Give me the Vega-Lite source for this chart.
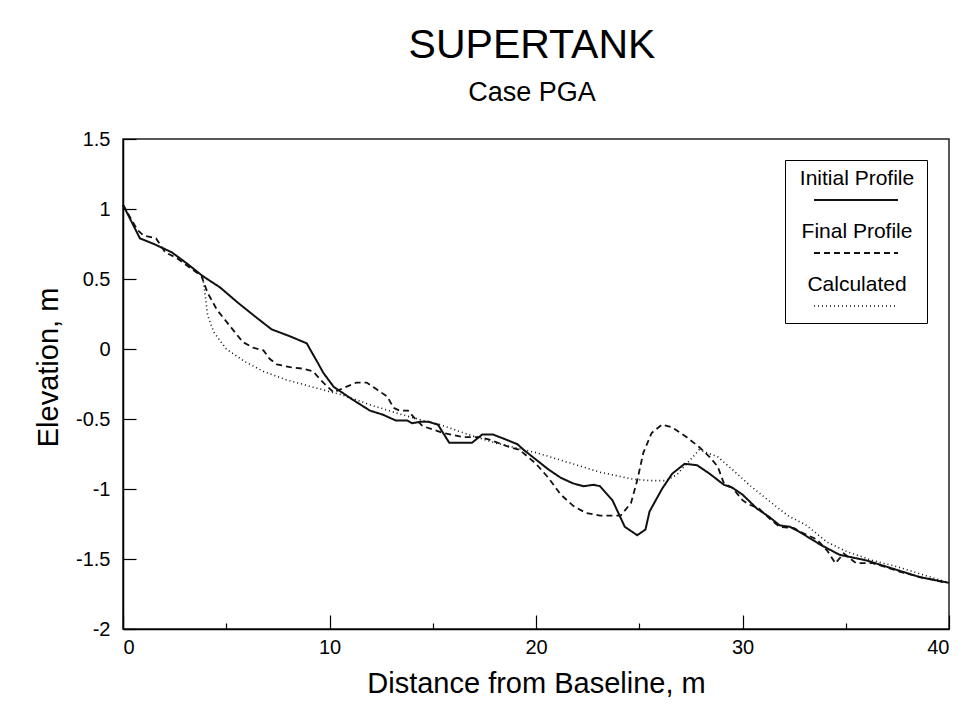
{
  "$schema": "https://vega.github.io/schema/vega-lite/v6.json",
  "autosize": {"type": "none"},
  "padding": {"left": 123, "top": 139, "right": 18, "bottom": 96},
  "width": 826,
  "height": 490,
  "background": "white",
  "title": {
    "text": "SUPERTANK",
    "subtitle": "Case PGA",
    "font": "Liberation Sans",
    "fontSize": 41,
    "fontWeight": "normal",
    "color": "black",
    "subtitleFont": "Liberation Sans",
    "subtitleFontSize": 27,
    "subtitleColor": "black",
    "subtitlePadding": 13,
    "anchor": "middle",
    "dx": -4,
    "offset": 22
  },
  "config": {
    "view": {"stroke": "#222", "strokeWidth": 1.5},
    "axis": {
      "labelFont": "Liberation Sans",
      "labelFontSize": 20,
      "labelColor": "black",
      "titleFont": "Liberation Sans",
      "titleFontSize": 29,
      "titleFontWeight": "normal",
      "titleColor": "black",
      "domainColor": "black",
      "domainWidth": 1.5,
      "tickColor": "black",
      "tickWidth": 1.2,
      "grid": false
    }
  },
  "datasets": {
    "profiles": [
      {"series": "Initial Profile", "x": 0, "y": 1.03},
      {"series": "Initial Profile", "x": 0.82, "y": 0.79},
      {"series": "Initial Profile", "x": 1.5, "y": 0.75},
      {"series": "Initial Profile", "x": 2.37, "y": 0.69},
      {"series": "Initial Profile", "x": 3.1, "y": 0.61},
      {"series": "Initial Profile", "x": 3.87, "y": 0.52},
      {"series": "Initial Profile", "x": 4.7, "y": 0.44},
      {"series": "Initial Profile", "x": 5.57, "y": 0.33},
      {"series": "Initial Profile", "x": 6.5, "y": 0.22},
      {"series": "Initial Profile", "x": 7.2, "y": 0.14},
      {"series": "Initial Profile", "x": 8.1, "y": 0.09},
      {"series": "Initial Profile", "x": 8.9, "y": 0.04},
      {"series": "Initial Profile", "x": 9.05, "y": 0.0},
      {"series": "Initial Profile", "x": 9.4, "y": -0.09},
      {"series": "Initial Profile", "x": 9.7, "y": -0.17},
      {"series": "Initial Profile", "x": 10.2, "y": -0.27},
      {"series": "Initial Profile", "x": 10.5, "y": -0.3},
      {"series": "Initial Profile", "x": 11.1, "y": -0.36},
      {"series": "Initial Profile", "x": 11.96, "y": -0.44},
      {"series": "Initial Profile", "x": 12.6, "y": -0.47},
      {"series": "Initial Profile", "x": 13.2, "y": -0.51},
      {"series": "Initial Profile", "x": 13.75, "y": -0.51},
      {"series": "Initial Profile", "x": 14.0, "y": -0.53},
      {"series": "Initial Profile", "x": 14.4, "y": -0.52},
      {"series": "Initial Profile", "x": 14.8, "y": -0.52},
      {"series": "Initial Profile", "x": 15.25, "y": -0.54},
      {"series": "Initial Profile", "x": 15.8, "y": -0.67},
      {"series": "Initial Profile", "x": 16.9, "y": -0.67},
      {"series": "Initial Profile", "x": 17.4, "y": -0.61},
      {"series": "Initial Profile", "x": 17.9, "y": -0.61},
      {"series": "Initial Profile", "x": 18.6, "y": -0.65},
      {"series": "Initial Profile", "x": 19.1, "y": -0.68},
      {"series": "Initial Profile", "x": 19.4, "y": -0.72},
      {"series": "Initial Profile", "x": 20.0, "y": -0.79},
      {"series": "Initial Profile", "x": 20.6, "y": -0.86},
      {"series": "Initial Profile", "x": 21.2, "y": -0.92},
      {"series": "Initial Profile", "x": 21.8, "y": -0.96},
      {"series": "Initial Profile", "x": 22.3, "y": -0.98},
      {"series": "Initial Profile", "x": 22.8, "y": -0.97},
      {"series": "Initial Profile", "x": 23.1, "y": -0.98},
      {"series": "Initial Profile", "x": 23.7, "y": -1.08},
      {"series": "Initial Profile", "x": 24.3, "y": -1.27},
      {"series": "Initial Profile", "x": 24.9, "y": -1.33},
      {"series": "Initial Profile", "x": 25.3, "y": -1.29},
      {"series": "Initial Profile", "x": 25.5, "y": -1.16},
      {"series": "Initial Profile", "x": 26.1, "y": -1.0},
      {"series": "Initial Profile", "x": 26.6, "y": -0.89},
      {"series": "Initial Profile", "x": 27.2, "y": -0.82},
      {"series": "Initial Profile", "x": 27.8, "y": -0.83},
      {"series": "Initial Profile", "x": 28.4, "y": -0.89},
      {"series": "Initial Profile", "x": 29.1, "y": -0.97},
      {"series": "Initial Profile", "x": 29.5, "y": -0.99},
      {"series": "Initial Profile", "x": 30.0, "y": -1.04},
      {"series": "Initial Profile", "x": 30.7, "y": -1.14},
      {"series": "Initial Profile", "x": 31.3, "y": -1.2},
      {"series": "Initial Profile", "x": 31.8, "y": -1.26},
      {"series": "Initial Profile", "x": 32.3, "y": -1.27},
      {"series": "Initial Profile", "x": 32.8, "y": -1.31},
      {"series": "Initial Profile", "x": 33.8, "y": -1.4},
      {"series": "Initial Profile", "x": 34.7, "y": -1.47},
      {"series": "Initial Profile", "x": 36.0, "y": -1.51},
      {"series": "Initial Profile", "x": 37.3, "y": -1.57},
      {"series": "Initial Profile", "x": 38.6, "y": -1.63},
      {"series": "Initial Profile", "x": 40, "y": -1.67},

      {"series": "Final Profile", "x": 0, "y": 1.03},
      {"series": "Final Profile", "x": 0.7, "y": 0.85},
      {"series": "Final Profile", "x": 1.0, "y": 0.81},
      {"series": "Final Profile", "x": 1.6, "y": 0.79},
      {"series": "Final Profile", "x": 2.05, "y": 0.69},
      {"series": "Final Profile", "x": 2.6, "y": 0.65},
      {"series": "Final Profile", "x": 3.25, "y": 0.58},
      {"series": "Final Profile", "x": 3.8, "y": 0.52},
      {"series": "Final Profile", "x": 4.1, "y": 0.4},
      {"series": "Final Profile", "x": 4.55, "y": 0.28},
      {"series": "Final Profile", "x": 5.2, "y": 0.16},
      {"series": "Final Profile", "x": 5.8, "y": 0.05},
      {"series": "Final Profile", "x": 6.3, "y": 0.01},
      {"series": "Final Profile", "x": 6.8, "y": -0.01},
      {"series": "Final Profile", "x": 7.1, "y": -0.07},
      {"series": "Final Profile", "x": 7.45, "y": -0.11},
      {"series": "Final Profile", "x": 8.1, "y": -0.13},
      {"series": "Final Profile", "x": 8.7, "y": -0.14},
      {"series": "Final Profile", "x": 9.2, "y": -0.16},
      {"series": "Final Profile", "x": 9.7, "y": -0.24},
      {"series": "Final Profile", "x": 10.2, "y": -0.31},
      {"series": "Final Profile", "x": 10.65, "y": -0.28},
      {"series": "Final Profile", "x": 11.3, "y": -0.24},
      {"series": "Final Profile", "x": 11.8, "y": -0.24},
      {"series": "Final Profile", "x": 12.3, "y": -0.29},
      {"series": "Final Profile", "x": 12.8, "y": -0.34},
      {"series": "Final Profile", "x": 13.1, "y": -0.42},
      {"series": "Final Profile", "x": 13.4, "y": -0.44},
      {"series": "Final Profile", "x": 13.8, "y": -0.44},
      {"series": "Final Profile", "x": 14.1, "y": -0.49},
      {"series": "Final Profile", "x": 14.5, "y": -0.55},
      {"series": "Final Profile", "x": 15.5, "y": -0.6},
      {"series": "Final Profile", "x": 16.5, "y": -0.63},
      {"series": "Final Profile", "x": 17.3, "y": -0.63},
      {"series": "Final Profile", "x": 17.8, "y": -0.65},
      {"series": "Final Profile", "x": 18.7, "y": -0.7},
      {"series": "Final Profile", "x": 19.2, "y": -0.72},
      {"series": "Final Profile", "x": 20.0, "y": -0.82},
      {"series": "Final Profile", "x": 20.6, "y": -0.92},
      {"series": "Final Profile", "x": 21.2, "y": -1.04},
      {"series": "Final Profile", "x": 21.8, "y": -1.12},
      {"series": "Final Profile", "x": 22.4, "y": -1.17},
      {"series": "Final Profile", "x": 23.1, "y": -1.19},
      {"series": "Final Profile", "x": 24.1, "y": -1.19},
      {"series": "Final Profile", "x": 24.6, "y": -1.1},
      {"series": "Final Profile", "x": 24.9, "y": -0.94},
      {"series": "Final Profile", "x": 25.2, "y": -0.74},
      {"series": "Final Profile", "x": 25.6, "y": -0.6},
      {"series": "Final Profile", "x": 26.1, "y": -0.54},
      {"series": "Final Profile", "x": 26.6, "y": -0.56},
      {"series": "Final Profile", "x": 27.3, "y": -0.63},
      {"series": "Final Profile", "x": 27.9, "y": -0.7},
      {"series": "Final Profile", "x": 28.4, "y": -0.77},
      {"series": "Final Profile", "x": 28.8, "y": -0.84},
      {"series": "Final Profile", "x": 29.1, "y": -0.96},
      {"series": "Final Profile", "x": 29.5, "y": -0.99},
      {"series": "Final Profile", "x": 30.0, "y": -1.08},
      {"series": "Final Profile", "x": 30.3, "y": -1.11},
      {"series": "Final Profile", "x": 30.8, "y": -1.14},
      {"series": "Final Profile", "x": 31.3, "y": -1.21},
      {"series": "Final Profile", "x": 31.8, "y": -1.27},
      {"series": "Final Profile", "x": 32.5, "y": -1.28},
      {"series": "Final Profile", "x": 33.0, "y": -1.32},
      {"series": "Final Profile", "x": 33.6, "y": -1.36},
      {"series": "Final Profile", "x": 34.1, "y": -1.44},
      {"series": "Final Profile", "x": 34.5, "y": -1.53},
      {"series": "Final Profile", "x": 34.9, "y": -1.46},
      {"series": "Final Profile", "x": 35.5, "y": -1.53},
      {"series": "Final Profile", "x": 36.3, "y": -1.53},
      {"series": "Final Profile", "x": 37.0, "y": -1.56},
      {"series": "Final Profile", "x": 37.6, "y": -1.59},
      {"series": "Final Profile", "x": 38.6, "y": -1.63},
      {"series": "Final Profile", "x": 39.9, "y": -1.67},

      {"series": "Calculated", "x": 3.87, "y": 0.51},
      {"series": "Calculated", "x": 4.0, "y": 0.36},
      {"series": "Calculated", "x": 4.1, "y": 0.24},
      {"series": "Calculated", "x": 4.4, "y": 0.12},
      {"series": "Calculated", "x": 5.0, "y": 0.0},
      {"series": "Calculated", "x": 5.9, "y": -0.09},
      {"series": "Calculated", "x": 6.8, "y": -0.16},
      {"series": "Calculated", "x": 7.9, "y": -0.22},
      {"series": "Calculated", "x": 9.4, "y": -0.28},
      {"series": "Calculated", "x": 10.65, "y": -0.33},
      {"series": "Calculated", "x": 12.0, "y": -0.4},
      {"series": "Calculated", "x": 13.3, "y": -0.46},
      {"series": "Calculated", "x": 14.5, "y": -0.51},
      {"series": "Calculated", "x": 15.35, "y": -0.54},
      {"series": "Calculated", "x": 16.7, "y": -0.61},
      {"series": "Calculated", "x": 18.0, "y": -0.67},
      {"series": "Calculated", "x": 20.0, "y": -0.74},
      {"series": "Calculated", "x": 22.0, "y": -0.83},
      {"series": "Calculated", "x": 23.1, "y": -0.88},
      {"series": "Calculated", "x": 24.7, "y": -0.93},
      {"series": "Calculated", "x": 25.5, "y": -0.94},
      {"series": "Calculated", "x": 26.3, "y": -0.94},
      {"series": "Calculated", "x": 26.8, "y": -0.9},
      {"series": "Calculated", "x": 27.3, "y": -0.82},
      {"series": "Calculated", "x": 27.9, "y": -0.72},
      {"series": "Calculated", "x": 28.8, "y": -0.77},
      {"series": "Calculated", "x": 29.5, "y": -0.86},
      {"series": "Calculated", "x": 30.4, "y": -0.98},
      {"series": "Calculated", "x": 31.5, "y": -1.11},
      {"series": "Calculated", "x": 32.2, "y": -1.19},
      {"series": "Calculated", "x": 33.1, "y": -1.26},
      {"series": "Calculated", "x": 34.1, "y": -1.38},
      {"series": "Calculated", "x": 35.1, "y": -1.45},
      {"series": "Calculated", "x": 36.3, "y": -1.51},
      {"series": "Calculated", "x": 37.6, "y": -1.56},
      {"series": "Calculated", "x": 40, "y": -1.67}
    ]
  },
  "layer": [
    {
      "mark": {"type": "rule", "color": "#333", "strokeWidth": 1.2},
      "encoding": {"y": {"datum": 0, "type": "quantitative"}}
    },
    {
      "data": {"name": "profiles"},
      "mark": {"type": "line", "color": "#111", "interpolate": "linear"},
      "encoding": {
        "x": {
          "field": "x",
          "type": "quantitative",
          "scale": {"domain": [0, 40], "nice": false, "zero": false},
          "axis": {
            "title": "Distance from Baseline, m",
            "values": [0, 5, 10, 15, 20, 25, 30, 35, 40],
            "labelExpr": "datum.value % 10 == 0 ? toString(datum.value) : ''",
            "tickSize": {"condition": {"test": "datum.value % 10 == 0", "value": -14}, "value": -6},
            "labelPadding": 22,
            "titlePadding": 12
          }
        },
        "y": {
          "field": "y",
          "type": "quantitative",
          "scale": {"domain": [-2, 1.5], "nice": false, "zero": false},
          "axis": {
            "title": "Elevation, m",
            "values": [-2, -1.75, -1.5, -1.25, -1, -0.75, -0.5, -0.25, 0, 0.25, 0.5, 0.75, 1, 1.25, 1.5],
            "labelExpr": "abs(datum.value * 2 - round(datum.value * 2)) < 0.001 ? toString(datum.value) : ''",
            "tickSize": {"condition": {"test": "abs(datum.value * 2 - round(datum.value * 2)) < 0.001", "value": -13}, "value": -6},
            "labelPadding": 26,
            "titlePadding": 12,
            "titleY": 228
          }
        },
        "detail": {"field": "series"},
        "strokeDash": {
          "field": "series",
          "type": "nominal",
          "scale": {
            "domain": ["Initial Profile", "Final Profile", "Calculated"],
            "range": [[1, 0], [6, 4], [1, 3]]
          },
          "legend": {
            "title": " ",
            "titleFontSize": 10,
            "titlePadding": 13,
            "orient": "none",
            "legendX": 662,
            "legendY": 21,
            "direction": "vertical",
            "symbolType": "stroke",
            "symbolSize": 7056,
            "symbolStrokeColor": "#111",
            "symbolStrokeWidth": 1.5,
            "symbolOffset": 16,
            "clipHeight": 10,
            "rowPadding": 16,
            "labelFont": "Liberation Sans",
            "labelFontSize": 21,
            "labelColor": "black",
            "labelAlign": "center",
            "labelOffset": -42,
            "labelBaseline": "middle",
            "labelLimit": 200,
            "strokeColor": "black",
            "padding": 12,
            "fillColor": "white",
            "encoding": {
              "labels": {"dy": {"value": -21}}
            }
          }
        },
        "strokeWidth": {
          "field": "series",
          "type": "nominal",
          "scale": {
            "domain": ["Initial Profile", "Final Profile", "Calculated"],
            "range": [2, 1.6, 1.1]
          },
          "legend": null
        }
      }
    }
  ]
}
